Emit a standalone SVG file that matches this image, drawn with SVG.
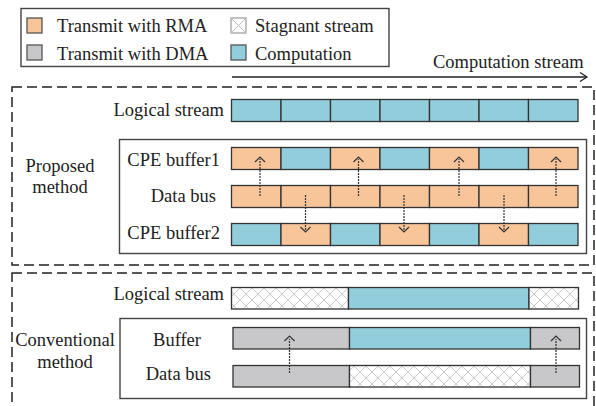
<svg xmlns="http://www.w3.org/2000/svg" width="596" height="406" viewBox="0 0 596 406">
<style>
text{font-family:"Liberation Serif","Times New Roman",serif;font-size:18.5px;fill:#222}
.frame{fill:none;stroke:#222;stroke-width:1.5;stroke-dasharray:10 5}
.box{fill:#fff;stroke:#444;stroke-width:1.4}
.c{stroke:#333;stroke-width:1.3}
.o{fill:#F8C59A}
.b{fill:#91CDDB}
.g{fill:#C8C8CA}
.h{fill:url(#hatch)}
.sw{stroke:#555;stroke-width:1.3}
.dot{fill:none;stroke:#333;stroke-width:1.2;stroke-dasharray:2 1}
.head{fill:none;stroke:#333;stroke-width:1.2}
</style>
<defs>
<pattern id="hatch" patternUnits="userSpaceOnUse" width="12" height="12">
<rect width="12" height="12" fill="#fff"/>
<path d="M0 0L12 12M12 0L0 12" stroke="#bbb" stroke-width="0.8"/>
</pattern>
</defs>

<g id="legend">
<rect x="21" y="8.5" width="368" height="58" class="box" stroke="#333"/>
<rect x="27" y="18" width="15" height="15" class="o sw"/>
<text x="57" y="32">Transmit with RMA</text>
<rect x="27" y="45" width="15" height="15" class="g sw"/>
<text x="57" y="60">Transmit with DMA</text>
<rect x="231" y="18" width="15" height="15" fill="#fff" stroke="#999" stroke-width="1.2"/>
<path d="M231 18L246 33M246 18L231 33" stroke="#bbb" stroke-width="1"/>
<text x="255" y="32">Stagnant stream</text>
<rect x="231" y="45" width="15" height="15" class="b sw"/>
<text x="255" y="60">Computation</text>
</g>

<g id="computation-stream">
<text x="433" y="68">Computation stream</text>
<path d="M232 77H587" stroke="#222" stroke-width="1.3"/>
<path d="M580 72.5L587 77L580 81.5" fill="none" stroke="#222" stroke-width="1.3"/>
</g>

<g id="proposed-method">
<rect x="12" y="87" width="582" height="178" class="frame"/>
<text x="60" y="172" text-anchor="middle">Proposed</text>
<text x="60" y="193" text-anchor="middle">method</text>
</g>

<g id="proposed-logical-stream">
<text x="224" y="116" text-anchor="end">Logical stream</text>
<rect x="231.5" y="99.5" width="49.5" height="22" class="b c"/>
<rect x="281" y="99.5" width="49.5" height="22" class="b c"/>
<rect x="330.5" y="99.5" width="49.5" height="22" class="b c"/>
<rect x="380" y="99.5" width="49.5" height="22" class="b c"/>
<rect x="429.5" y="99.5" width="49.5" height="22" class="b c"/>
<rect x="479" y="99.5" width="49.5" height="22" class="b c"/>
<rect x="528.5" y="99.5" width="49.5" height="22" class="b c"/>
</g>

<g id="proposed-buffers">
<rect x="119.5" y="139.5" width="467" height="114" class="box"/>
</g>

<g id="cpe-buffer1">
<text x="220" y="166" text-anchor="end">CPE buffer1</text>
<rect x="231.5" y="147.5" width="49.5" height="22" class="o c"/>
<rect x="281" y="147.5" width="49.5" height="22" class="b c"/>
<rect x="330.5" y="147.5" width="49.5" height="22" class="o c"/>
<rect x="380" y="147.5" width="49.5" height="22" class="b c"/>
<rect x="429.5" y="147.5" width="49.5" height="22" class="o c"/>
<rect x="479" y="147.5" width="49.5" height="22" class="b c"/>
<rect x="528.5" y="147.5" width="49.5" height="22" class="o c"/>
</g>

<g id="proposed-data-bus">
<text x="216" y="202" text-anchor="end">Data bus</text>
<rect x="231.5" y="185.5" width="49.5" height="22" class="o c"/>
<rect x="281" y="185.5" width="49.5" height="22" class="o c"/>
<rect x="330.5" y="185.5" width="49.5" height="22" class="o c"/>
<rect x="380" y="185.5" width="49.5" height="22" class="o c"/>
<rect x="429.5" y="185.5" width="49.5" height="22" class="o c"/>
<rect x="479" y="185.5" width="49.5" height="22" class="o c"/>
<rect x="528.5" y="185.5" width="49.5" height="22" class="o c"/>
</g>

<g id="cpe-buffer2">
<text x="220" y="239" text-anchor="end">CPE buffer2</text>
<rect x="231.5" y="223.5" width="49.5" height="22" class="b c"/>
<rect x="281" y="223.5" width="49.5" height="22" class="o c"/>
<rect x="330.5" y="223.5" width="49.5" height="22" class="b c"/>
<rect x="380" y="223.5" width="49.5" height="22" class="o c"/>
<rect x="429.5" y="223.5" width="49.5" height="22" class="b c"/>
<rect x="479" y="223.5" width="49.5" height="22" class="o c"/>
<rect x="528.5" y="223.5" width="49.5" height="22" class="b c"/>
</g>

<g id="conventional-method">
<rect x="12" y="273" width="582" height="150" class="frame"/>
<text x="65" y="346" text-anchor="middle">Conventional</text>
<text x="65" y="368" text-anchor="middle">method</text>
</g>

<g id="conventional-logical-stream">
<text x="224" y="300" text-anchor="end">Logical stream</text>
<rect x="231.5" y="287.5" width="117" height="21.5" class="h c"/>
<rect x="348.5" y="287.5" width="180.5" height="21.5" class="b c"/>
<rect x="529" y="287.5" width="49.5" height="21.5" class="h c"/>
</g>

<g id="conventional-box">
<rect x="120" y="318.5" width="466.5" height="80" class="box"/>
</g>

<g id="buffer">
<text x="201" y="346" text-anchor="end">Buffer</text>
<rect x="233" y="327.5" width="116.5" height="21.5" class="g c"/>
<rect x="349.5" y="327.5" width="181" height="21.5" class="b c"/>
<rect x="530.5" y="327.5" width="49" height="21.5" class="g c"/>
</g>

<g id="conventional-data-bus">
<text x="211" y="380" text-anchor="end">Data bus</text>
<rect x="233" y="365.5" width="116.5" height="21.5" class="g c"/>
<rect x="349.5" y="365.5" width="181" height="21.5" class="h c"/>
<rect x="530.5" y="365.5" width="49" height="21.5" class="g c"/>
</g>

<g id="connectors">
<path d="M260 196V159M358.5 196V159M459 196V159M556 196V159" class="dot"/>
<path d="M255 162L260 157L265 162M353.5 162L358.5 157L363.5 162M454 162L459 157L464 162M551 162L556 157L561 162" class="head"/>
<path d="M305.5 195V230M404 195V230M504 195V230" class="dot"/>
<path d="M300.5 227L305.5 232L310.5 227M399 227L404 232L409 227M499 227L504 232L509 227" class="head"/>
<path d="M289.5 373V339M556 373V339" class="dot"/>
<path d="M284.5 341L289.5 336L294.5 341M551 341L556 336L561 341" class="head"/>
</g>
</svg>
